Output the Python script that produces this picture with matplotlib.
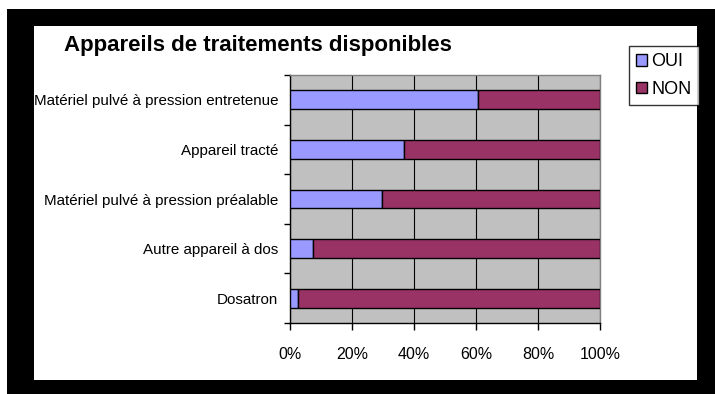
import matplotlib
matplotlib.use("Agg")
import matplotlib.pyplot as plt
from matplotlib.patches import Rectangle

# categories, bottom to top as drawn
categories = ["Dosatron", "Autre appareil à dos", "Matériel pulvé à pression préalable",
              "Appareil tracté", "Matériel pulvé à pression entretenue"]
oui = [2.5, 7.5, 29.8, 36.9, 60.6]
non = [100 - v for v in oui]
x_ticks = [0, 20, 40, 60, 80, 100]
x_labels = ["0%", "20%", "40%", "60%", "80%", "100%"]

W, H = 715, 394
plt.rcParams['font.family'] = ['Liberation Sans', 'DejaVu Sans']
fig = plt.figure(figsize=(W / 100, H / 100), dpi=100)
fig.patch.set_facecolor("white")

def fx(px):
    return px / W

def fy(py):
    return 1 - py / H

# black frame and white chart area
fig.patches.append(Rectangle((fx(7), fy(394)), fx(708), 385 / H, transform=fig.transFigure,
                             facecolor="black", edgecolor="none", zorder=-10))
fig.patches.append(Rectangle((fx(34), fy(380)), fx(663), 354 / H, transform=fig.transFigure,
                             facecolor="white", edgecolor="none", zorder=-9))

ax = fig.add_axes([fx(290), fy(323), fx(310), 248 / H])
ax.set_facecolor("#C0C0C0")

y = range(len(categories))
ax.barh(y, oui, height=0.38, color="#9999FF", edgecolor="black", linewidth=1, label="OUI", zorder=3)
ax.barh(y, non, left=oui, height=0.38, color="#993366", edgecolor="black", linewidth=1, label="NON", zorder=3)

ax.set_xlim(0, 100)
ax.set_ylim(-0.5, len(categories) - 0.5)
ax.set_xticks(x_ticks)
ax.set_xticklabels(x_labels, fontsize=11.5)
ax.set_yticks([i + 0.5 for i in range(-1, len(categories))])
ax.set_yticklabels([])
ax.set_yticks(list(y), minor=True)
ax.set_yticklabels(categories, minor=True, fontsize=10.9)
ax.tick_params(axis="y", which="minor", length=0, pad=8.5)
ax.tick_params(axis="y", which="major", length=4, width=1, direction="out", color="black")
ax.tick_params(axis="x", length=5, width=1, direction="out", pad=12)

ax.grid(axis="x", color="black", linewidth=0.8, zorder=1)
ax.set_axisbelow(True)
for s in ["left", "bottom"]:
    ax.spines[s].set_color("black")
    ax.spines[s].set_linewidth(1)
for s in ["top", "right"]:
    ax.spines[s].set_color("#808080")
    ax.spines[s].set_linewidth(1)

fig.text(fx(64), fy(46), "Appareils de traitements disponibles", fontsize=16,
         fontweight="bold", ha="left", va="center")

leg = fig.legend(loc="upper left", bbox_to_anchor=(fx(629), fy(46)), fontsize=13,
                 frameon=True, fancybox=False, handlelength=0.6, handleheight=0.6,
                 handletextpad=0.25, borderpad=0.4, labelspacing=0.6, borderaxespad=0)
leg.get_frame().set_edgecolor("black")
leg.get_frame().set_linewidth(1)

fig.savefig("out.png", dpi=100, facecolor=fig.get_facecolor())
